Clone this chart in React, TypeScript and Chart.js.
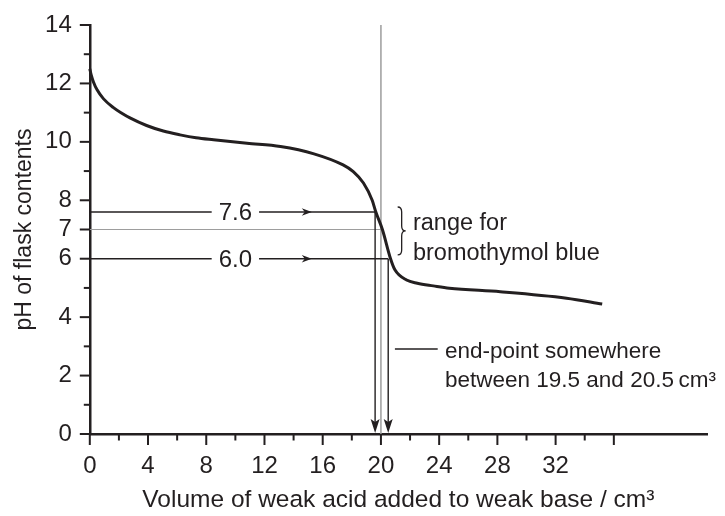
import { useEffect, useRef } from "react";
import { Chart, registerables } from "chart.js";

Chart.register(...registerables);

// ---- data ----
const volumeAdded = [0, 0.1, 0.25, 0.5, 0.93, 1.6, 2.2, 2.76, 3.9, 5.05, 6.2, 7.3, 8.5, 10.8, 13.1, 15.4, 17.4, 18.1, 18.8, 19.4, 19.65, 20.1, 20.66, 20.96, 21.76, 22.5, 23.6, 24.7, 28.2, 32.75, 35.2];
const flaskPH = [12.5, 12.28, 12.05, 11.78, 11.48, 11.18, 10.98, 10.82, 10.56, 10.37, 10.24, 10.14, 10.07, 9.95, 9.84, 9.59, 9.21, 8.98, 8.59, 8.0, 7.6, 7.0, 6.0, 5.62, 5.27, 5.16, 5.07, 4.99, 4.87, 4.65, 4.45];

const xMajorTicks = [0, 4, 8, 12, 16, 20, 24, 28, 32, 36];
const xMinorTicks = [2, 6, 10, 14, 18, 22, 26, 30, 34];
const xTickLabels = ["0", "4", "8", "12", "16", "20", "24", "28", "32", ""];
const yMajorTicks = [0, 2, 4, 6, 7, 8, 10, 12, 14];
const yMinorTicks = [1, 3, 5, 9, 11, 13];
const yTickLabels = ["0", "2", "4", "6", "7", "8", "10", "12", "14"];

const xAxisMax = 42.4;
const yAxisMax = 14;

const indicatorLimitsPH = [7.6, 6.0];
const indicatorLimitLabels = ["7.6", "6.0"];
const limitVolumes = [19.6, 20.5];
const limitLabelVolume = 10;
const limitArrowVolume = 15.25;
const equivalenceVolume = 20;
const neutralPH = 7;

const xTitle = "Volume of weak acid added to weak base / cm³";
const yTitle = "pH of flask contents";
const rangeText = ["range for", "bromothymol blue"];
const endPointText = ["end-point somewhere", "between 19.5 and 20.5\u2009cm³"];

// ---- styles ----
const INK = "#231f20";
const GREY = "#9d9d9d";
const FONT = "'Liberation Sans', Arial, sans-serif";

function arrowHead(ctx: CanvasRenderingContext2D, tx: number, ty: number, dx: number, dy: number, len: number, half: number) {
  const nx = -dy, ny = dx;
  ctx.beginPath();
  ctx.moveTo(tx, ty);
  ctx.lineTo(tx - len * dx + half * nx, ty - len * dy + half * ny);
  ctx.lineTo(tx - (len - 3) * dx, ty - (len - 3) * dy);
  ctx.lineTo(tx - len * dx - half * nx, ty - len * dy - half * ny);
  ctx.closePath();
  ctx.fill();
}

function seg(ctx: CanvasRenderingContext2D, x0: number, y0: number, x1: number, y1: number) {
  ctx.beginPath();
  ctx.moveTo(x0, y0);
  ctx.lineTo(x1, y1);
  ctx.stroke();
}

const annotations = {
  id: "titrationAnnotations",
  beforeDatasetsDraw(chart: any) {
    const { ctx } = chart;
    const xs = chart.scales.x, ys = chart.scales.y;
    const X = (v: number) => xs.getPixelForValue(v);
    const Y = (v: number) => ys.getPixelForValue(v);
    ctx.save();

    // grey guide lines
    ctx.strokeStyle = GREY;
    ctx.lineWidth = 1.5;
    seg(ctx, X(equivalenceVolume), Y(0), X(equivalenceVolume), Y(yAxisMax));
    ctx.lineWidth = 1.2;
    seg(ctx, X(0), Y(neutralPH), X(equivalenceVolume), Y(neutralPH));

    // indicator limit lines with arrows
    ctx.strokeStyle = INK;
    ctx.fillStyle = INK;
    ctx.lineWidth = 1.4;
    ctx.font = `24px ${FONT}`;
    indicatorLimitsPH.forEach((ph, i) => {
      const y = Y(ph);
      const xEnd = X(limitVolumes[i]);
      const label = indicatorLimitLabels[i];
      const cx = X(limitLabelVolume);
      const w = ctx.measureText(label).width;
      seg(ctx, X(0), y, cx - w / 2 - 7, y);
      seg(ctx, cx + w / 2 + 7, y, xEnd, y);
      ctx.textAlign = "center";
      ctx.textBaseline = "alphabetic";
      ctx.fillText(label, cx, y + 8.5);
      arrowHead(ctx, X(limitArrowVolume), y, 1, 0, 10, 3.8);
      seg(ctx, xEnd, y, xEnd, Y(0) - 8);
      arrowHead(ctx, xEnd, Y(0) - 1, 0, 1, 14, 4.5);
    });

    // brace
    const bx = X(21.15);
    const bTop = Y(7.77), bBot = Y(6.13);
    const bMid = (bTop + bBot) / 2;
    ctx.lineWidth = 1.3;
    ctx.beginPath();
    ctx.moveTo(bx, bTop);
    ctx.quadraticCurveTo(bx + 4, bTop, bx + 4, bTop + 5);
    ctx.lineTo(bx + 4, bMid - 5);
    ctx.quadraticCurveTo(bx + 4, bMid, bx + 8, bMid);
    ctx.quadraticCurveTo(bx + 4, bMid, bx + 4, bMid + 5);
    ctx.lineTo(bx + 4, bBot - 5);
    ctx.quadraticCurveTo(bx + 4, bBot, bx, bBot);
    ctx.stroke();

    ctx.font = `23.5px ${FONT}`;
    ctx.textAlign = "left";
    ctx.textBaseline = "alphabetic";
    ctx.fillText(rangeText[0], X(22.2), Y(neutralPH));
    ctx.fillText(rangeText[1], X(22.2), Y(neutralPH) + 30);

    // end-point note
    ctx.font = `22.5px ${FONT}`;
    ctx.lineWidth = 1.3;
    seg(ctx, X(20.96), Y(2.91), X(23.9), Y(2.91));
    ctx.fillText(endPointText[0], X(24.4), Y(2.6));
    ctx.fillText(endPointText[1], X(24.4), Y(2.6) + 29);

    ctx.restore();
  },
  afterDraw(chart: any) {
    const { ctx } = chart;
    const xs = chart.scales.x, ys = chart.scales.y;
    const X = (v: number) => xs.getPixelForValue(v);
    const Y = (v: number) => ys.getPixelForValue(v);
    const y0 = Y(0), x0 = X(0);
    ctx.save();
    ctx.strokeStyle = INK;
    ctx.lineWidth = 2;
    xMajorTicks.forEach((v) => seg(ctx, X(v), y0, X(v), y0 + 11));
    xMinorTicks.forEach((v) => seg(ctx, X(v), y0, X(v), y0 + 6.5));
    yMajorTicks.forEach((v) => seg(ctx, x0, Y(v), x0 - 10, Y(v)));
    yMinorTicks.forEach((v) => seg(ctx, x0, Y(v), x0 - 6, Y(v)));
    ctx.restore();
  },
};

export default function App() {
  const canvasRef = useRef<HTMLCanvasElement | null>(null);

  useEffect(() => {
    const canvas = canvasRef.current;
    if (!canvas) return;
    const points = volumeAdded.map((v, i) => ({ x: v, y: flaskPH[i] }));
    const chart = new Chart(canvas, {
      type: "line",
      data: {
        datasets: [
          {
            data: points,
            borderColor: INK,
            borderWidth: 3,
            pointRadius: 0,
            cubicInterpolationMode: "monotone",
            fill: false,
            clip: false as any,
          },
        ],
      },
      options: {
        animation: false,
        responsive: true,
        maintainAspectRatio: false,
        layout: { padding: { top: 25, right: 18, left: 0, bottom: 0 } },
        plugins: { legend: { display: false }, tooltip: { enabled: false } },
        scales: {
          x: {
            type: "linear",
            position: "bottom",
            min: 0,
            max: xAxisMax,
            afterBuildTicks: (s: any) => {
              s.ticks = [...xMajorTicks, ...xMinorTicks].sort((a, b) => a - b).map((v) => ({ value: v }));
            },
            afterFit: (s: any) => {
              s.height = 82;
            },
            grid: { display: false, drawTicks: true, tickLength: 11 },
            border: { display: true, color: INK, width: 2.5 },
            ticks: {
              autoSkip: false,
              maxRotation: 0,
              padding: 7,
              color: INK,
              font: { size: 24, family: FONT },
              callback: (v: any) => {
                const i = xMajorTicks.indexOf(Number(v));
                return i >= 0 ? xTickLabels[i] : "";
              },
            },
            title: {
              display: true,
              text: xTitle,
              color: INK,
              font: { size: 24.5, family: FONT },
              padding: { top: 0, bottom: 1 },
            },
          },
          y: {
            type: "linear",
            min: 0,
            max: yAxisMax,
            afterBuildTicks: (s: any) => {
              s.ticks = [...yMajorTicks, ...yMinorTicks].sort((a, b) => a - b).map((v) => ({ value: v }));
            },
            afterFit: (s: any) => {
              s.width = 89.8;
            },
            grid: { display: false, drawTicks: true, tickLength: 10 },
            border: { display: true, color: INK, width: 2.5 },
            ticks: {
              autoSkip: false,
              padding: 8,
              color: INK,
              font: { size: 24, family: FONT },
              callback: (v: any) => {
                const i = yMajorTicks.indexOf(Number(v));
                return i >= 0 ? yTickLabels[i] : "";
              },
            },
            title: {
              display: true,
              text: yTitle,
              color: INK,
              font: { size: 23, family: FONT },
              padding: { top: 11, bottom: 0 },
            },
          },
        },
      },
      plugins: [annotations],
    });
    return () => chart.destroy();
  }, []);

  return (
    <div style={{ position: "fixed", left: 0, top: 0, width: 725, height: 516, background: "#fff" }}>
      <canvas ref={canvasRef} />
    </div>
  );
}
